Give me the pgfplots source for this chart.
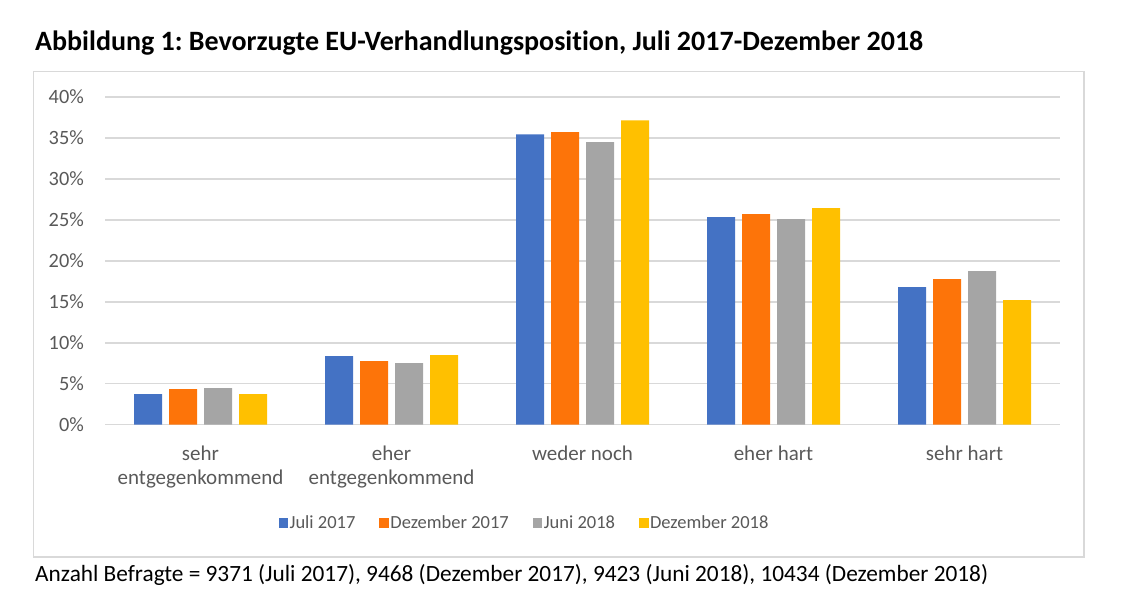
\documentclass[border=0pt]{standalone}
\usepackage{fontspec}
\setmainfont{Carlito}[Ligatures=NoCommon]
\usepackage{pgfplots}
\pgfplotsset{compat=1.18}
\frenchspacing
\definecolor{cblue}{HTML}{4472C4}
\definecolor{corange}{RGB}{253,116,9}
\definecolor{cgray}{HTML}{A5A5A5}
\definecolor{cyellow}{HTML}{FFC000}
\definecolor{gridgray}{HTML}{D9D9D9}
\definecolor{labgray}{HTML}{595959}
\pgfplotsset{sqleg/.style={legend image code/.code={\fill[#1] (0pt,-5pt) rectangle (9.5pt,5pt);}}}
\begin{document}
\begin{tikzpicture}[x=1pt,y=1pt]
\path (0,0) rectangle (1139,612);
\draw[gridgray, line width=1.5pt] (33.5,55) rectangle (1084,540.3);
\node[anchor=base west, inner sep=0, font=\fontsize{28}{32}\selectfont\bfseries] at (35,561) {Abbildung 1: Bevorzugte EU-Verhandlungsposition, Juli 2017-Dezember 2018};
\node[anchor=base west, inner sep=0, font=\fontsize{23.3}{26}\selectfont] at (35,30) {Anzahl Befragte = 9371 (Juli 2017), 9468 (Dezember 2017), 9423 (Juni 2018), 10434 (Dezember 2018)};
\begin{axis}[at={(105pt,187.3pt)}, anchor=south west, scale only axis,
  width=955pt, height=327.7pt,
  ymin=0, ymax=40, xmin=-0.5, xmax=4.5,
  ybar=7pt, bar width=28pt,
  xtick={0,1,2,3,4},
  xticklabels={{sehr\\entgegenkommend},{eher\\entgegenkommend},{weder noch},{eher hart},{sehr hart}},
  ytick={0,5,...,40},
  yticklabels={0\%,5\%,10\%,15\%,20\%,25\%,30\%,35\%,40\%},
  axis line style={draw=none},
  major tick length=0pt,
  ymajorgrids,
  major grid style={gridgray, line width=1.5pt},
  tick label style={font=\fontsize{21}{24}\selectfont, text=labgray},
  yticklabel style={inner sep=0pt, anchor=east, xshift=-21pt, font=\fontsize{20.3}{24}\selectfont},
  xticklabel style={align=center, inner sep=0pt, anchor=north, yshift=-21pt},
  legend style={at={(0.439,-0.300)}, anchor=center, draw=none, legend columns=4,
    font=\fontsize{18.5}{24}\selectfont, text=labgray, inner sep=0pt,
    nodes={inner sep=1.5pt},
    /tikz/every even column/.append style={column sep=22.5pt}},
]
\addplot[fill=cblue, draw=none, sqleg=cblue] coordinates {(0,3.74) (1,8.38) (2,35.45) (3,25.33) (4,16.8)};
\addplot[fill=corange, draw=none, sqleg=corange] coordinates {(0,4.35) (1,7.77) (2,35.7) (3,25.7) (4,17.76)};
\addplot[fill=cgray, draw=none, sqleg=cgray] coordinates {(0,4.47) (1,7.52) (2,34.5) (3,25.09) (4,18.74)};
\addplot[fill=cyellow, draw=none, sqleg=cyellow] coordinates {(0,3.74) (1,8.5) (2,37.16) (3,26.43) (4,15.2)};
\legend{Juli 2017, Dezember 2017, Juni 2018, Dezember 2018}
\end{axis}
\end{tikzpicture}
\end{document}
